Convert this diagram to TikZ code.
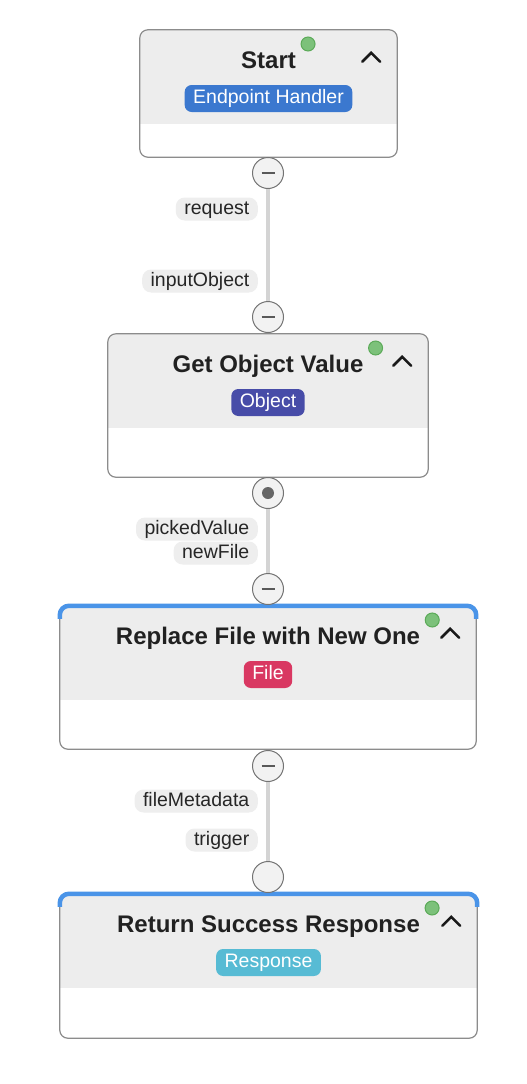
\documentclass[tikz,border=0pt]{standalone}
\usepackage{fontspec}
\setmainfont{Liberation Sans}
\usetikzlibrary{positioning}

\definecolor{headgray}{HTML}{EDEDED}
\definecolor{edgegray}{HTML}{8C8C8C}
\definecolor{wiregray}{HTML}{D4D4D4}
\definecolor{pillgray}{HTML}{EEEEEE}
\definecolor{handlerblue}{HTML}{3B78CF}
\definecolor{objectblue}{HTML}{474CA8}
\definecolor{filered}{HTML}{D93862}
\definecolor{responsecyan}{HTML}{57BBD4}
\definecolor{activeblue}{HTML}{4A94E8}
\definecolor{dotgreen}{HTML}{7CC17A}
\definecolor{dotedge}{HTML}{5BAA58}

\tikzset{
  card/.style={fill=white, inner sep=0pt},
  cardedge/.style={draw=edgegray, line width=1.2pt, rounded corners=8pt},
  accent/.style={draw=activeblue, line width=4.5pt, rounded corners=9pt},
  title/.style={anchor=base, inner sep=0pt, text=black!87,
    font=\fontsize{24}{28}\selectfont\bfseries},
  badge/.style={fill=#1, text=white, rounded corners=7pt, inner xsep=8.5pt,
    inner ysep=4.5pt, text height=14pt, text depth=4pt,
    font=\fontsize{19.5}{23}\selectfont},
  pin/.style={fill=pillgray, rounded corners=9pt, anchor=east, inner xsep=8.5pt,
    inner ysep=2.5pt, text height=14pt, text depth=4pt, text=black!85,
    font=\fontsize{19.5}{23}\selectfont},
  port/.style={circle, draw=black!55, fill=black!5, line width=1pt,
    minimum size=31pt, inner sep=0pt},
  wire/.style={draw=wiregray, line width=4.5pt},
  minus/.style={draw=black!65, line width=1.5pt},
  status/.style={circle, fill=dotgreen, draw=dotedge, line width=1pt,
    minimum size=14pt, inner sep=0pt},
  chevron/.style={draw=black!90, line width=2.5pt, line cap=round}
}

\begin{document}
\begin{tikzpicture}[x=1pt, y=-1pt]
  \useasboundingbox[fill=white] (0,0) rectangle (527,1084);

  % the four steps
  \foreach \nm/\lx/\ty/\rx/\by/\ttl/\kind/\col in {
      start/140/30/397/157/Start/Endpoint Handler/handlerblue,
      getobj/108/334/428/477/Get Object Value/Object/objectblue,
      replace/60/606/476/749/Replace File with New One/File/filered,
      respond/60/894/477/1038/Return Success Response/Response/responsecyan}
  {
    \node[card, minimum width={\rx pt-\lx pt}, minimum height={\by pt-\ty pt}]
      (\nm) at ({(\lx+\rx)/2},{(\ty+\by)/2}) {};
    \begin{scope}
      \clip[rounded corners=8pt] (\nm.north west) rectangle (\nm.south east);
      \fill[headgray] (\nm.north west) rectangle ([yshift=-94pt]\nm.north east);
    \end{scope}
    \draw[cardedge] (\nm.north west) rectangle (\nm.south east);

    \node[title] (\nm-title) at ({(\lx+\rx)/2},\ty+38.5) {\ttl};
    \node[badge=\col] (\nm-kind) at ({(\lx+\rx)/2},\ty+68.5) {\kind};
    \node[status] (\nm-dot) at ([shift={(12pt,24.5pt)}]\nm-title.base east) {};
    \draw[chevron] ([shift={(-35pt,-32pt)}]\nm.north east) -- ++(9pt,9pt) -- ++(9pt,-9pt);
  }
  \foreach \nm in {replace,respond}
    \draw[accent] ([yshift=-13pt]\nm.north west) -- (\nm.north west)
      -- (\nm.north east) -- ([yshift=-13pt]\nm.north east);

  % ports
  \node[port] (p1) at (268,173) {};
  \node[port] (p2) at (268,317) {};
  \node[port] (p3) at (268,493) {};
  \node[port] (p4) at (268,589) {};
  \node[port] (p5) at (268,766) {};
  \node[port] (p6) at (268,877) {};
  \foreach \p in {p1,p2,p4,p5}
    \draw[minus] ([xshift=-6.5pt]\p.center) -- ([xshift=6.5pt]\p.center);
  \fill[black!60] (p3) circle (6pt);

  % wires
  \draw[wire] (p1) -- (p2);
  \draw[wire] (p3) -- (p4);
  \draw[wire] (p5) -- (p6);

  % labels
  \node[pin] (request) at (258,209) {request};
  \node[pin] (inputobj) at (258,281) {inputObject};
  \node[pin] (picked) at (258,529) {pickedValue};
  \node[pin] (newfile) at (258,553) {newFile};
  \node[pin] (filemeta) at (258,801) {fileMetadata};
  \node[pin] (trigger) at (258,840) {trigger};
\end{tikzpicture}
\end{document}
